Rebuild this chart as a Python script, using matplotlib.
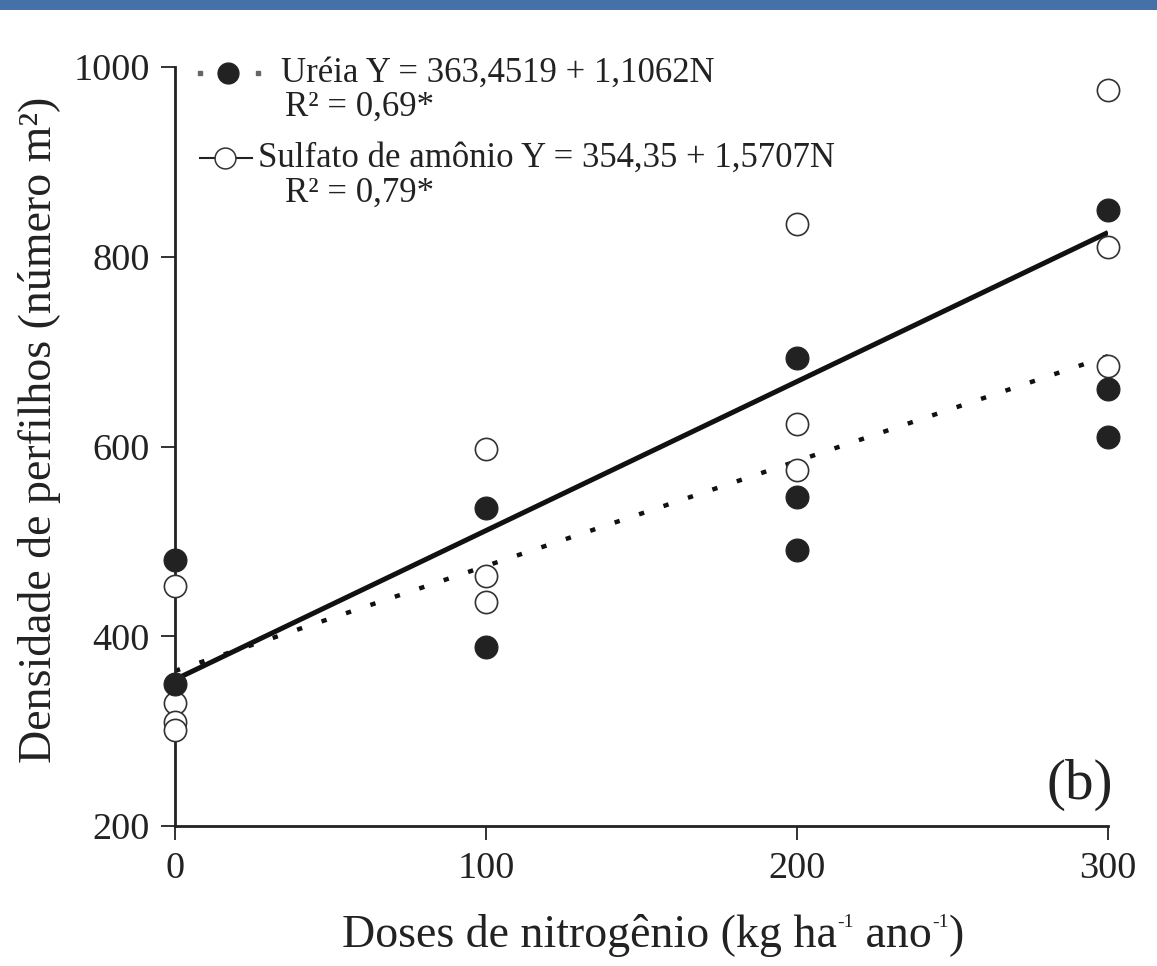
import matplotlib
matplotlib.use("Agg")
import matplotlib.pyplot as plt
from matplotlib.lines import Line2D
from matplotlib.patches import Rectangle
import numpy as np

# ---------------- data ----------------
doses = [0, 100, 200, 300]
ureia_x = [0, 0, 100, 100, 200, 200, 200, 300, 300, 300]
ureia_y = [480, 350, 535, 389, 693, 547, 491, 849, 661, 610]
sulfato_x = [0, 0, 0, 0, 100, 100, 100, 200, 200, 200, 300, 300, 300]
sulfato_y = [453, 330, 310, 301, 597, 464, 436, 834, 624, 575, 976, 810, 685]
ureia_coef = (363.4519, 1.1062)
sulfato_coef = (354.35, 1.5707)
ureia_label = "Uréia Y = 363,4519 + 1,1062N"
ureia_r2 = "R² = 0,69*"
sulfato_label = "Sulfato de amônio Y = 354,35 + 1,5707N"
sulfato_r2 = "R² = 0,79*"
xlabel_parts = ["Doses de nitrogênio (kg ha", "-1", " ano", "-1", ")"]
ylabel = "Densidade de perfilhos (número m²)"
xticks = [0, 100, 200, 300]
yticks = [200, 400, 600, 800, 1000]

plt.rcParams['font.family'] = ['Liberation Serif', 'DejaVu Serif']

W, H = 1157, 966
fig = plt.figure(figsize=(W / 100, H / 100), dpi=100)

def fx(px):
    return px / W

def fy(py):
    return 1 - py / H

# top blue band
fig.add_artist(Rectangle((0, fy(10)), 1, 10 / H, transform=fig.transFigure,
                         color='#4671a8', lw=0))

ax = fig.add_axes([fx(175), fy(826), fx(1108) - fx(175), fy(67) - fy(826)])
ax.set_xlim(0, 300)
ax.set_ylim(200, 1000)

tc = '#222222'
xl = np.array([0, 300])
ax.plot(xl, sulfato_coef[0] + sulfato_coef[1] * xl, color='#111111', lw=3.6,
        solid_capstyle='butt', zorder=2)
ax.plot(xl, ureia_coef[0] + ureia_coef[1] * xl, color='#111111', lw=3.2,
        linestyle=(0, (1.2, 4.6)), dash_capstyle='butt', zorder=2)

ax.plot(sulfato_x, sulfato_y, linestyle='none', marker='o', markersize=16,
        markerfacecolor='white', markeredgecolor='#333333', markeredgewidth=1.2,
        clip_on=False, zorder=3)
ax.plot(ureia_x, ureia_y, linestyle='none', marker='o', markersize=16.5,
        markerfacecolor='#222222', markeredgecolor='#222222', markeredgewidth=0.8,
        clip_on=False, zorder=4)

for s in ['top', 'right']:
    ax.spines[s].set_visible(False)
for s in ['left', 'bottom']:
    ax.spines[s].set_linewidth(2.0)
    ax.spines[s].set_color('#222222')

ax.set_xticks(xticks)
ax.set_yticks(yticks)
ax.tick_params(direction='out', length=10, width=1.3, color='#222222',
               labelsize=27.5, labelcolor=tc, pad=8)

# x label built from pieces (small superscripts)
big, small = 33, 14
first = fig.text(fx(342), fy(947), xlabel_parts[0], ha='left', va='baseline',
                 fontsize=big, color=tc)
prev = first
for i, part in enumerate(xlabel_parts[1:]):
    if part == "-1":
        prev = ax.annotate(part, xy=(1, 1), xycoords=(prev, first),
                           xytext=(0.5, 0), textcoords='offset points',
                           ha='left', va='top', fontsize=small, color=tc,
                           annotation_clip=False)
    else:
        prev = ax.annotate(part, xy=(1, 0), xycoords=(prev, first),
                           ha='left', va='bottom', fontsize=big, color=tc,
                           annotation_clip=False)

fig.text(fx(40), fy(430), ylabel,
         ha='center', va='center', rotation=90, fontsize=33, color=tc)

# panel label
fig.text(fx(1113), fy(785), "(b)", ha='right', va='center', fontsize=41, color=tc)

# legend (manual)
fig.add_artist(Line2D([fx(200), fx(258)], [fy(73), fy(73)], transform=fig.transFigure,
                      linestyle='none', marker='s', markersize=2.2, color='#666666'))
fig.add_artist(Line2D([fx(228)], [fy(73)], transform=fig.transFigure,
                      linestyle='none', marker='o', markersize=15,
                      markerfacecolor='#222222', markeredgecolor='#222222'))
fig.add_artist(Line2D([fx(200), fx(252)], [fy(158), fy(158)], transform=fig.transFigure,
                      color='#222222', lw=1.5))
fig.add_artist(Line2D([fx(225)], [fy(158)], transform=fig.transFigure,
                      linestyle='none', marker='o', markersize=15,
                      markerfacecolor='white', markeredgecolor='#333333', markeredgewidth=1.1))
fig.text(fx(281), fy(73), ureia_label, ha='left', va='center', fontsize=25, color=tc)
fig.text(fx(285), fy(107), ureia_r2, ha='left', va='center', fontsize=25, color=tc)
fig.text(fx(258), fy(158), sulfato_label, ha='left', va='center', fontsize=25, color=tc)
fig.text(fx(285), fy(193), sulfato_r2, ha='left', va='center', fontsize=25, color=tc)

fig.savefig("out.png", dpi=100)
